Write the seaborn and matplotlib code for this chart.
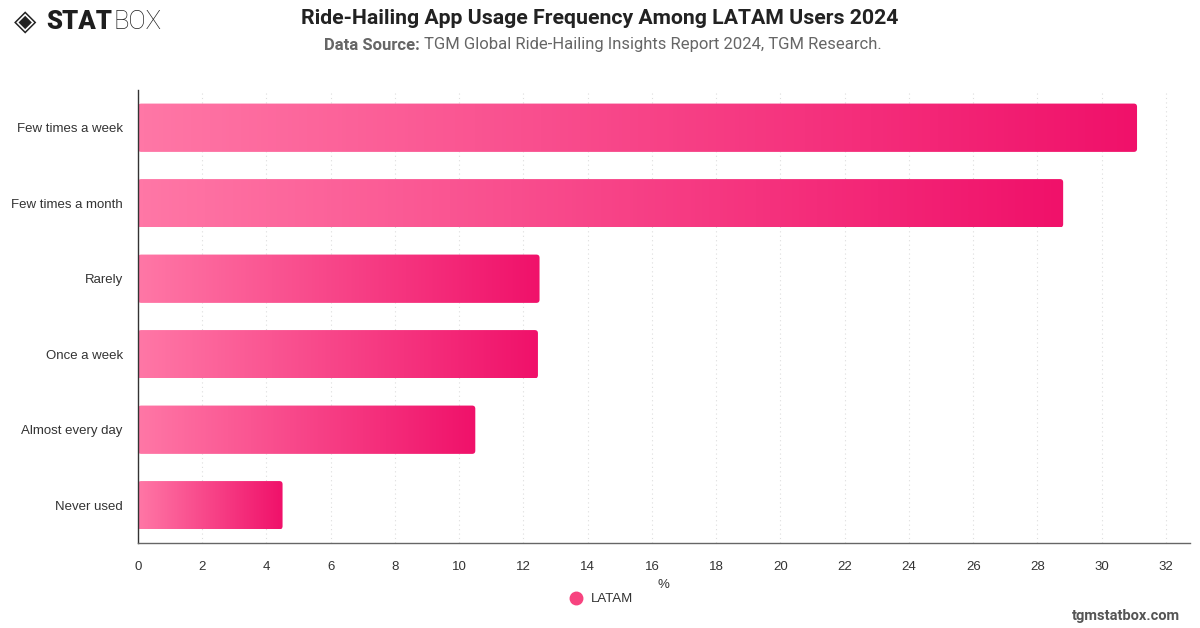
import numpy as np
import matplotlib.pyplot as plt
import pandas as pd
import seaborn as sns
from matplotlib.colors import LinearSegmentedColormap
from matplotlib.patches import FancyBboxPatch
from matplotlib.lines import Line2D

sns.set_theme(style="white")
plt.rcParams['font.family'] = ['Liberation Sans', 'DejaVu Sans']

# data
categories = ["Few times a week", "Few times a month", "Rarely",
              "Once a week", "Almost every day", "Never used"]
latam = [31.1, 28.8, 12.5, 12.45, 10.5, 4.5]
xticks = list(range(0, 33, 2))

df = pd.DataFrame({"frequency": categories, "share": latam})

fig = plt.figure(figsize=(12, 6.28), dpi=100)
ax = fig.add_axes([0.115, 0.1354, 0.8767, 0.7213])

sns.barplot(data=df, x="share", y="frequency", orient="h", width=0.64,
            color="#f7437f", ax=ax, zorder=2)

# gradient fill, each bar from light pink to deep pink
cmap = LinearSegmentedColormap.from_list("pinks", ["#ff77a6", "#f0116a"])
grad = np.linspace(0, 1, 256).reshape(1, -1)
for p in list(ax.patches):
    x0, y0, w, h = p.get_x(), p.get_y(), p.get_width(), p.get_height()
    p.set_visible(False)
    rb = FancyBboxPatch((x0, y0), w, h,
                        boxstyle="round,pad=0,rounding_size=0.1",
                        mutation_aspect=0.42, facecolor="none",
                        edgecolor="none", transform=ax.transData)
    ax.add_patch(rb)
    im = ax.imshow(grad, extent=[x0, x0 + w, y0 + h, y0], cmap=cmap,
                   aspect="auto", zorder=2, interpolation="bicubic")
    im.set_clip_path(rb)

ax.set_xlim(0, 32.75)
ax.set_ylim(5.5, -0.5)
ax.set_xticks(xticks)
ax.set_xticklabels([str(t) for t in xticks])
ax.set_xlabel("")
ax.set_ylabel("")

ax.grid(axis="x", color="#dddddd", linestyle=(0, (1, 3)), linewidth=0.8, zorder=0)
ax.grid(axis="y", visible=False)
for s in ["top", "right"]:
    ax.spines[s].set_visible(False)
ax.spines["left"].set_color("#333333")
ax.spines["left"].set_linewidth(1.0)
ax.spines["bottom"].set_color("#666666")
ax.spines["bottom"].set_linewidth(1.0)
ax.tick_params(axis="x", length=0, pad=13, labelsize=9.5, labelcolor="#333333")
ax.tick_params(axis="y", length=0, pad=11, labelsize=9.5, labelcolor="#333333")

# titles
fig.text(0.5, 1 - 18 / 628, "Ride-Hailing App Usage Frequency Among LATAM Users 2024",
         ha="center", va="center", fontsize=15.3, fontweight="bold",
         color="#222222", family=["Roboto", "DejaVu Sans"])
fig.text(420 / 1200, 1 - 45 / 628, "Data Source:", ha="right", va="center",
         fontsize=12, fontweight="bold", color="#666666",
         family=["Roboto", "DejaVu Sans"])
fig.text(424 / 1200, 1 - 45 / 628,
         "TGM Global Ride-Hailing Insights Report 2024, TGM Research.",
         ha="left", va="center", fontsize=12, color="#666666",
         family=["Roboto", "DejaVu Sans"])

# logo
fig.text(14 / 1200, 1 - 22 / 628, "\u25c8", ha="left", va="center",
         fontsize=21, color="#222222", family=["DejaVu Sans"])
t_stat = fig.text(46 / 1200, 1 - 22 / 628, "STAT", ha="left", va="center",
                  fontsize=18.5, fontweight="black", color="#1e1e1e",
                  family=["Roboto", "DejaVu Sans"])
fig.canvas.draw()
bb = t_stat.get_window_extent()
fig.text(bb.x1 / 1200 + 1 / 1200, 1 - 22 / 628, "BOX", ha="left", va="center",
         fontsize=18.5, fontweight="light", color="#1e1e1e",
         family=["Roboto", "DejaVu Sans"])

# axis label and legend
fig.text(663 / 1200, 1 - 585 / 628, "%", ha="center", va="center",
         fontsize=9.5, color="#333333")
handle = Line2D([], [], marker="o", linestyle="none", markersize=9,
                markerfacecolor="#f7437f", markeredgecolor="#f7437f")
fig.legend([handle], ["LATAM"], loc="center",
           bbox_to_anchor=(598 / 1200, 1 - 599 / 628), frameon=False,
           fontsize=9.5, handletextpad=0.1, labelcolor="#333333")

fig.text(1180 / 1200, 1 - 616 / 628, "tgmstatbox.com", ha="right", va="center",
         fontsize=10.5, fontweight="bold", color="#555555",
         family=["Roboto", "DejaVu Sans"])

fig.savefig("out.png", dpi=100)
